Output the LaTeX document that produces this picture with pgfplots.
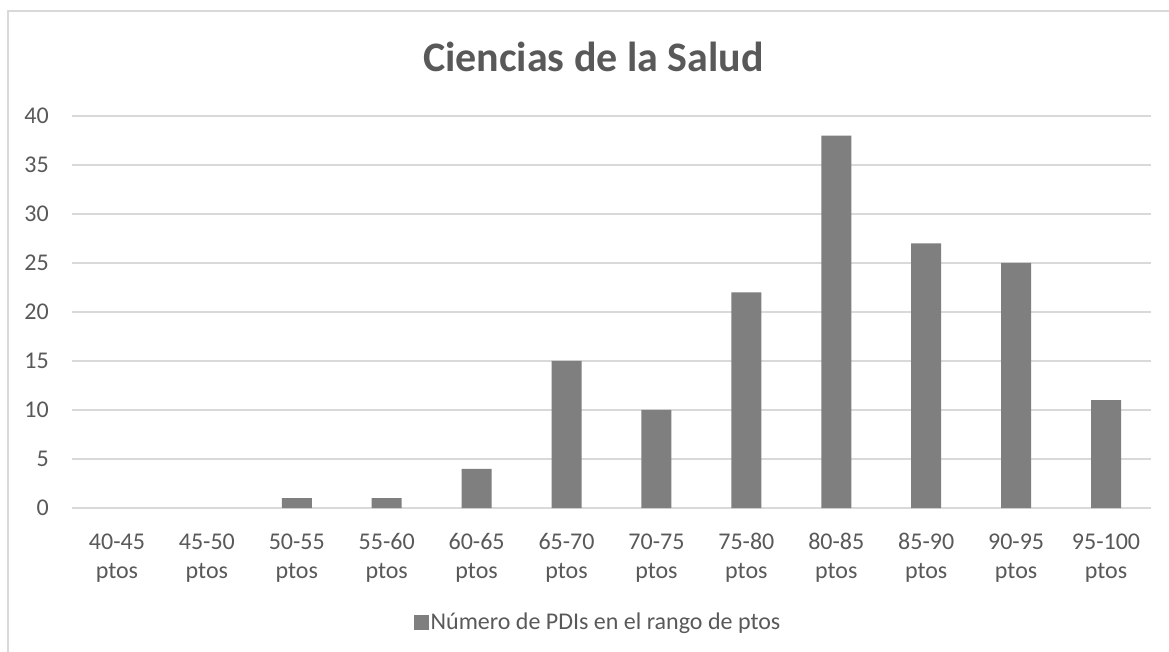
\documentclass[border=0pt]{standalone}
\usepackage{pgfplots}
\pgfplotsset{compat=1.18}
\usepackage{fontspec}
\setmainfont{Carlito}
\definecolor{barc}{HTML}{7F7F7F}
\definecolor{txt}{HTML}{595959}
\definecolor{gridc}{HTML}{D9D9D9}
\begin{document}
\begin{tikzpicture}
\useasboundingbox (-72bp,-144bp) rectangle (1097bp,508bp);
\fill[white] (-72bp,-144bp) rectangle (1097bp,508bp);
\draw[gridc, line width=1.2bp] (-64bp,-150bp) -- (-64bp,497bp) -- (1110bp,497bp);
\begin{axis}[
  scale only axis,
  width=1079bp, height=392bp,
  xmin=-0.5, xmax=11.5,
  ymin=0, ymax=40,
  ytick={0,5,...,40},
  xtick={0,...,11},
  xticklabels={{40-45\\ptos},{45-50\\ptos},{50-55\\ptos},{55-60\\ptos},{60-65\\ptos},{65-70\\ptos},{70-75\\ptos},{75-80\\ptos},{80-85\\ptos},{85-90\\ptos},{90-95\\ptos},{95-100\\ptos}},
  /pgf/number format/assume math mode=true,
  axis line style={draw=none},
  tick style={draw=none},
  ymajorgrids,
  grid style={gridc, line width=1.2bp},
  ybar, bar width=30bp,
  ticklabel style={text=txt, font=\fontsize{24bp}{29bp}\selectfont, inner sep=0pt},
  yticklabel style={anchor=east, xshift=-23bp},
  xticklabel style={anchor=north, align=center, yshift=-21bp},
  legend style={at={(0.4875,-0.291)}, anchor=center, draw=none, fill=none,
    font=\fontsize{24bp}{29bp}\selectfont, text=txt, inner sep=0pt},
  legend image code/.code={\fill[barc] (-4bp,-7.5bp) rectangle (11bp,7.5bp);},
]
\addplot[fill=barc, draw=none, y filter/.expression={y==0 ? nan : y}, unbounded coords=discard] coordinates {
(0,0) (1,0) (2,1) (3,1) (4,4) (5,15) (6,10) (7,22) (8,38) (9,27) (10,25) (11,11)
};
\addlegendentry{Número de PDIs en el rango de ptos}
\end{axis}
\node[anchor=base, text=txt, font=\fontsize{42bp}{50bp}\selectfont\bfseries, inner sep=0pt] at (521.5bp,436bp) {Ciencias de la Salud};
\end{tikzpicture}
\end{document}
